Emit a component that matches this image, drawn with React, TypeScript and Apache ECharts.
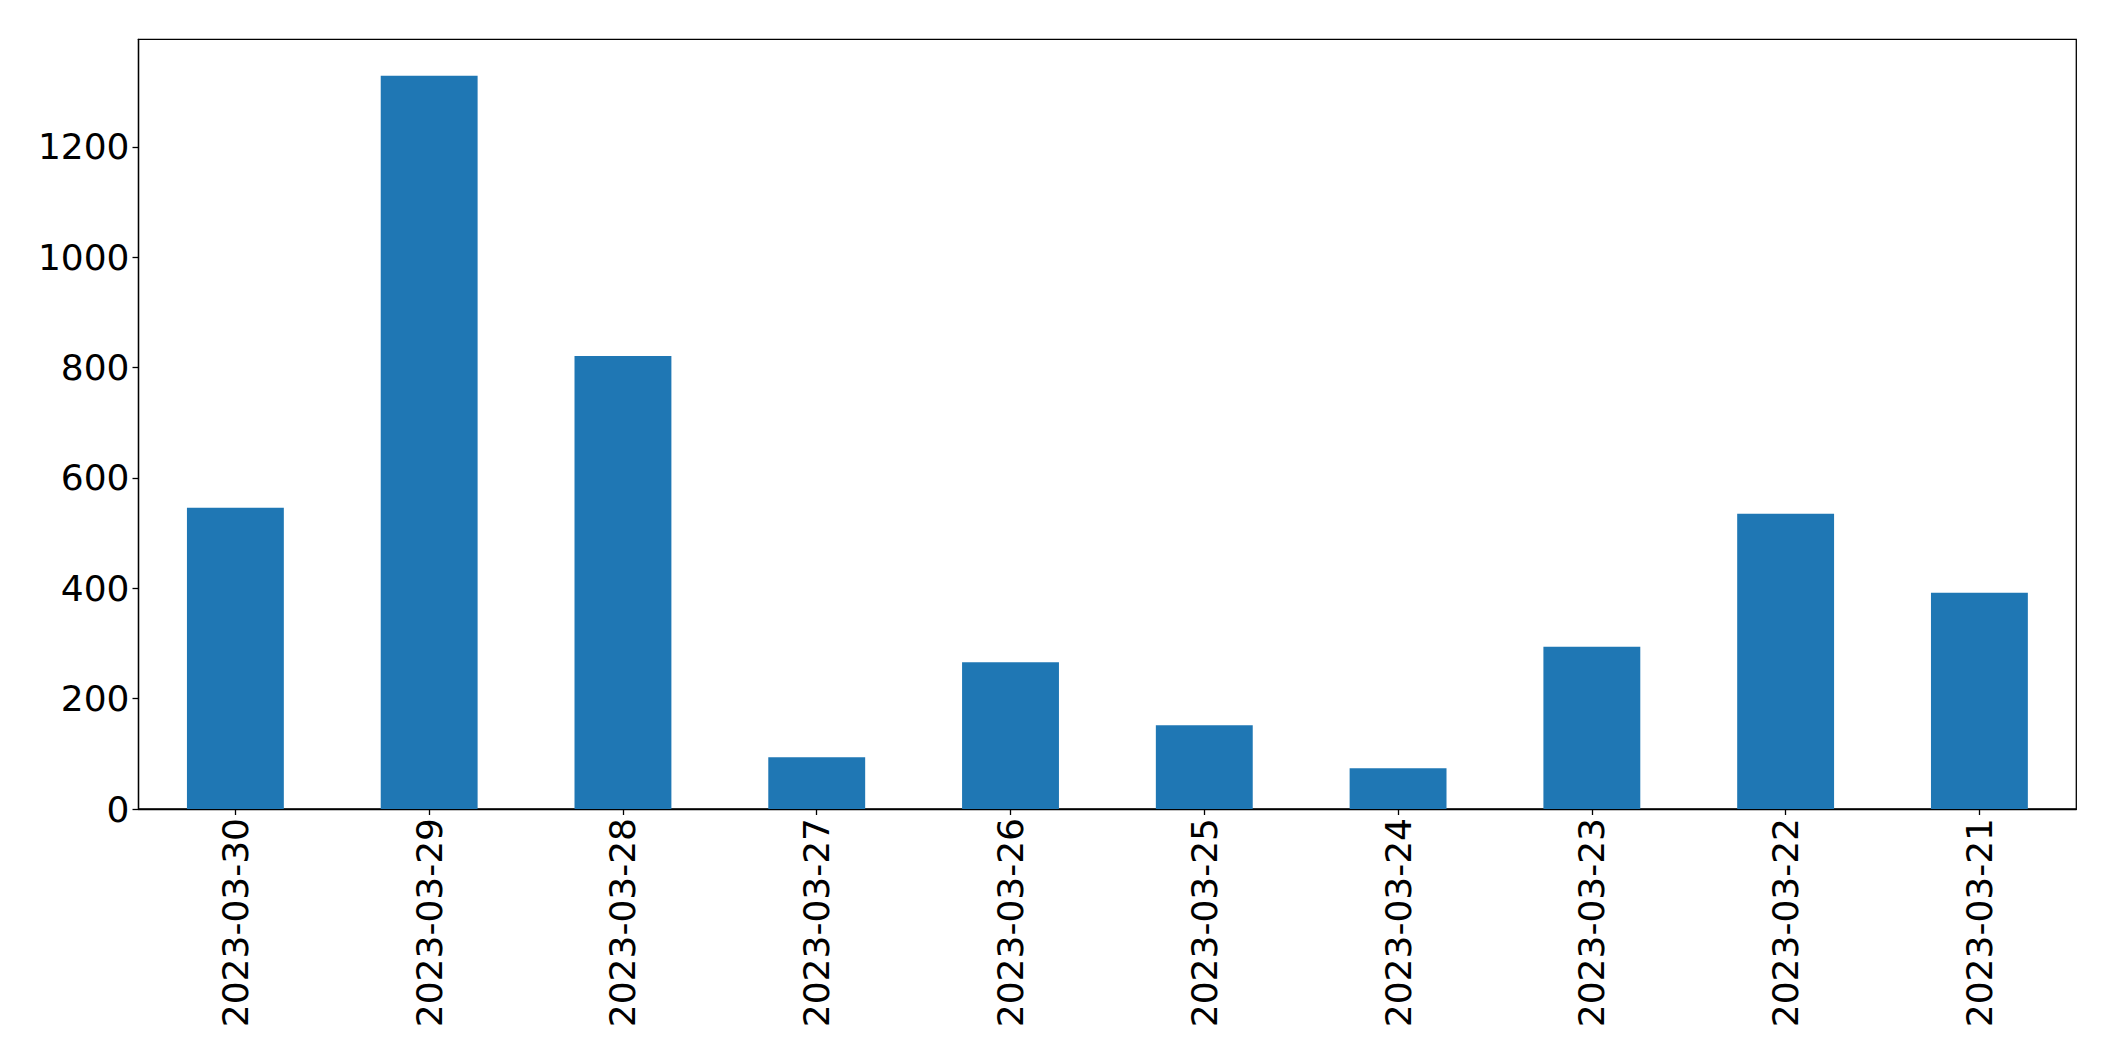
import React, { useEffect, useRef } from "react";
import * as echarts from "echarts";

const categories = [
  "2023-03-30",
  "2023-03-29",
  "2023-03-28",
  "2023-03-27",
  "2023-03-26",
  "2023-03-25",
  "2023-03-24",
  "2023-03-23",
  "2023-03-22",
  "2023-03-21",
];
const values = [546, 1329, 821, 94, 266, 152, 74, 294, 535, 392];
const yTicks = [0, 200, 400, 600, 800, 1000, 1200];
const yMax = 1395;

const FONT = "DejaVu Sans";

export default function App() {
  const ref = useRef<HTMLDivElement>(null);
  useEffect(() => {
    if (!ref.current) return;
    const chart = echarts.init(ref.current, null, { renderer: "svg" });
    chart.setOption({
      animation: false,
      backgroundColor: "#ffffff",
      grid: {
        left: 138.5,
        top: 39.3,
        right: 38.7,
        bottom: 252,
        show: true,
        borderColor: "#000000",
        borderWidth: 1.3,
        backgroundColor: "transparent",
      },
      xAxis: {
        type: "category",
        data: categories,
        boundaryGap: true,
        axisLine: { show: true, lineStyle: { color: "#000", width: 1.3 } },
        axisTick: {
          show: true,
          alignWithLabel: true,
          length: 6,
          lineStyle: { color: "#000", width: 1.3 },
        },
        axisLabel: {
          rotate: 90,
          margin: 9,
          fontSize: 36,
          fontFamily: FONT,
          color: "#000",
          interval: 0,
        },
        splitLine: { show: false },
      },
      yAxis: {
        type: "value",
        min: 0,
        max: yMax,
        interval: 200,
        axisLine: { show: true, lineStyle: { color: "#000", width: 1.3 } },
        axisTick: {
          show: true,
          length: 6,
          lineStyle: { color: "#000", width: 1.3 },
          customValues: yTicks,
        },
        axisLabel: {
          margin: 9,
          fontSize: 36,
          fontFamily: FONT,
          color: "#000",
          customValues: yTicks,
          formatter: (v: number) => String(v),
        },
        splitLine: { show: false },
      },
      series: [
        {
          type: "bar",
          data: values,
          barWidth: "50%",
          itemStyle: { color: "#1f77b4" },
        },
      ],
    });
    return () => chart.dispose();
  }, []);
  return (
    <div
      ref={ref}
      style={{ position: "absolute", left: 0, top: 0, width: 2115, height: 1061 }}
    />
  );
}
